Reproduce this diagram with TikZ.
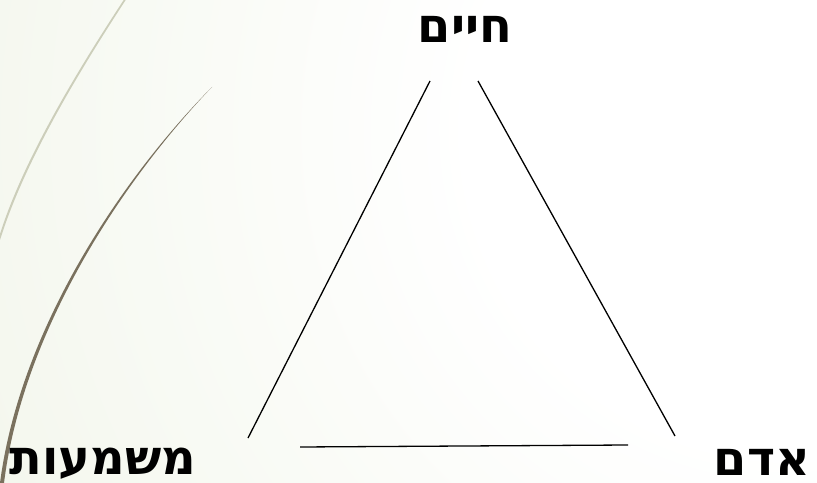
\documentclass[tikz,border=0pt]{standalone}
\usepackage{fontspec}
\setmainfont{Liberation Sans}
\newfontfamily\hebfont[Script=Hebrew, BoldFont={DejaVu Sans Bold}]{DejaVu Sans}
\TeXXeTstate=1
\definecolor{bggreen}{RGB}{226,234,209}
\definecolor{arcbrown}{RGB}{122,113,94}
\definecolor{arclight}{RGB}{204,206,186}
\pgfdeclareradialshading{bgshade}{\pgfpoint{0bp}{0bp}}{color(0bp)=(white); color(9bp)=(white); color(50bp)=(bggreen)}
\tikzset{
  lbl/.style={font=\hebfont\bfseries\fontsize{48}{48}\selectfont, inner sep=0pt, text=black},
  edge/.style={draw=black, line width=1.3bp}
}
\begin{document}
\begin{tikzpicture}[x=1bp,y=-1bp]
\useasboundingbox (0,0) rectangle (817,483);
\begin{scope}
\clip (0,0) rectangle (817,483);
\shade[shading=bgshade] (790,130) circle (880bp);
\end{scope}
% decorative arcs
\fill[arclight] (127,-2) .. controls (80,70) and (25,160) .. (0,240) -- (0,234) .. controls (24,158) and (79,68) .. (125,-2) -- cycle;
\fill[arcbrown] (212,87) .. controls (120,180) and (20,330) .. (0,483) -- (4,483) .. controls (23,331) and (122,181) .. (212,87) -- cycle;
% labels
\node[lbl] (life) at (465,29) {\beginR חיים\endR};
\node[lbl] (meaning) at (103,464) {\beginR משמעות\endR};
\node[lbl] (man) at (762,462) {\beginR אדם\endR};
% triangle sides
\coordinate (a1) at (430,81);
\coordinate (a2) at (248,438);
\coordinate (b1) at (478,81);
\coordinate (b2) at (675,436);
\coordinate (c1) at (300,447);
\coordinate (c2) at (628,445);
\draw[edge] (a1) -- (a2);
\draw[edge] (b1) -- (b2);
\draw[edge] (c1) -- (c2);
\end{tikzpicture}
\end{document}
